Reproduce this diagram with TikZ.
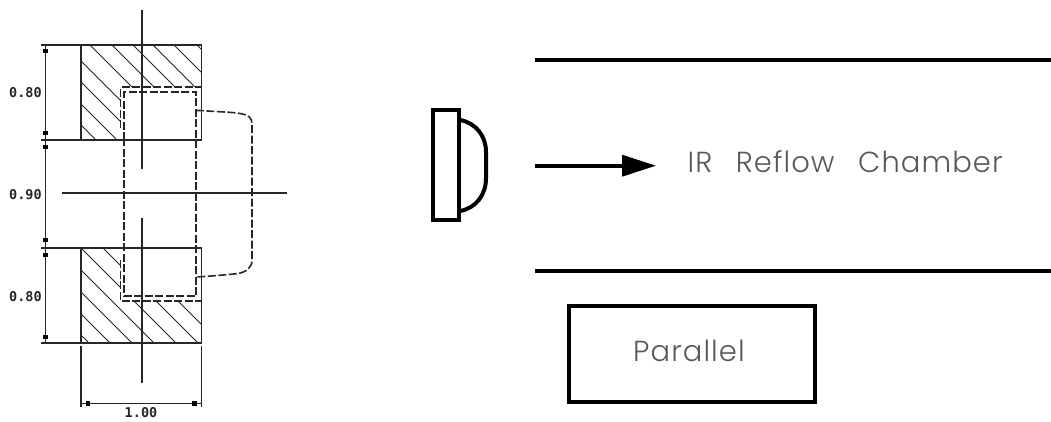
\documentclass[tikz,border=0pt]{standalone}
\usepackage{fontspec}
\newfontfamily\cadfont{DejaVu Sans Mono}
\newfontfamily\labfont[UprightFont=* Light,LetterSpace=3.7,WordSpace=2.6]{Poppins}
\usetikzlibrary{arrows.meta}
\tikzset{
  thin line/.style={line width=1.6pt,black!85},
  hatch/.style={line width=1pt,black!85},
  dashline/.style={line width=1.6pt,black!85,dash pattern=on 8pt off 2.5pt},
  thick line/.style={line width=4pt,black},
  dot/.style={fill=black,inner sep=0pt,minimum size=4.5pt,rectangle},
  dimtext/.style={font=\cadfont\fontsize{13.5}{14}\selectfont\bfseries,inner sep=0pt,black!85},
  gray label/.style={text=black!65,inner sep=0pt,anchor=base west}
}
\begin{document}
\begin{tikzpicture}[x=1pt,y=-1pt]
\useasboundingbox[fill=white] (0,0) rectangle (1051,421);
% hatching
\begin{scope}
\clip (81,45)--(201.5,45)--(201.5,87)--(120.5,87)--(120.5,140)--(81,140)--cycle;
\foreach \c in {-44,-23,-1,20,45,67,88,108,129,152}
  \draw[hatch] (\c,0) -- ({\c+200},200);
\end{scope}
\begin{scope}
\clip (81,248)--(120.5,248)--(120.5,301)--(201.5,301)--(201.5,343)--(81,343)--cycle;
\foreach \c in {-123,-145,-167,-189,-211,-233,-254}
  \draw[hatch] (\c,0) -- ({\c+500},500);
\end{scope}
% part outline
\draw[thin line] (41,45)--(201.5,45)--(201.5,140)--(41,140);
\draw[thin line] (81,45)--(81,140);
\draw[thin line] (41,248)--(201.5,248)--(201.5,343)--(41,343);
\draw[thin line] (81,248)--(81,343);
% centre lines
\draw[thin line] (142,10)--(142,169);
\draw[thin line] (142,218)--(142,383);
\draw[thin line] (62,193.2)--(287,193.2);
% hidden lines
\draw[dashline] (120.5,128)--(120.5,87)--(201,87);
\draw[dashline] (120.5,260)--(120.5,301)--(201,301);
\draw[dashline] (124,140)--(124,92)--(196,92)--(196,296)--(124,296)--(124,140);
\draw[dashline] (196,110.5)--(201,110.5) .. controls (220,112) and (232,112) .. (240,113.5) .. controls (249,115) and (252,118) .. (252,124) -- (252,260) .. controls (252,268) and (246,272) .. (238,273.5) .. controls (225,275) and (212,276) .. (197,277);
% dimensions
\draw[thin line] (45.5,45)--(45.5,343);
\foreach \y in {51,133,147,240,255,337} \node[dot] at (45.5,\y) {};
\draw[thin line] (81,346)--(81,407);
\draw[thin line] (201.5,346)--(201.5,407);
\draw[thin line] (81,403.5)--(201.5,403.5);
\node[dot] at (88,403.5) {};
\node[dot] at (194.5,403.5) {};
\node[dimtext] (d1) at (25.5,92.5) {0.80};
\node[dimtext] (d2) at (25.5,194.5) {0.90};
\node[dimtext] (d3) at (25.5,296.5) {0.80};
\node[dimtext] (d4) at (141,412.5) {1.00};
% chamber
\coordinate (t1) at (535,60); \coordinate (t2) at (1051,60);
\coordinate (b1) at (535,270.5); \coordinate (b2) at (1051,270.5);
\draw[thick line] (t1)--(t2);
\draw[thick line] (b1)--(b2);
% lamp
\draw[thick line] (433,110) rectangle (459,220);
\draw[thick line] (460,120) .. controls (476,123) and (486,136) .. (486,152) -- (486,178) .. controls (486,195) and (476,208) .. (460,211);
% arrow
\coordinate (a1) at (535,165.7); \coordinate (a2) at (656,165.7);
\draw[line width=3.6pt,-{Triangle[length=34pt,width=21pt]}] (a1)--(a2);
\node[gray label,font=\labfont\fontsize{29}{32}\selectfont] (irlab) at (687.5,172) {IR Reflow Chamber};
% parallel box
\node[draw=black,line width=4pt,outer sep=0pt,minimum width=246pt,minimum height=96pt,inner sep=0pt,anchor=north west] (pbox) at (569,306) {};
\node[gray label,font=\labfont\fontsize{29}{32}\selectfont] (plab) at (633,361.5) {Parallel};
\end{tikzpicture}
\end{document}
